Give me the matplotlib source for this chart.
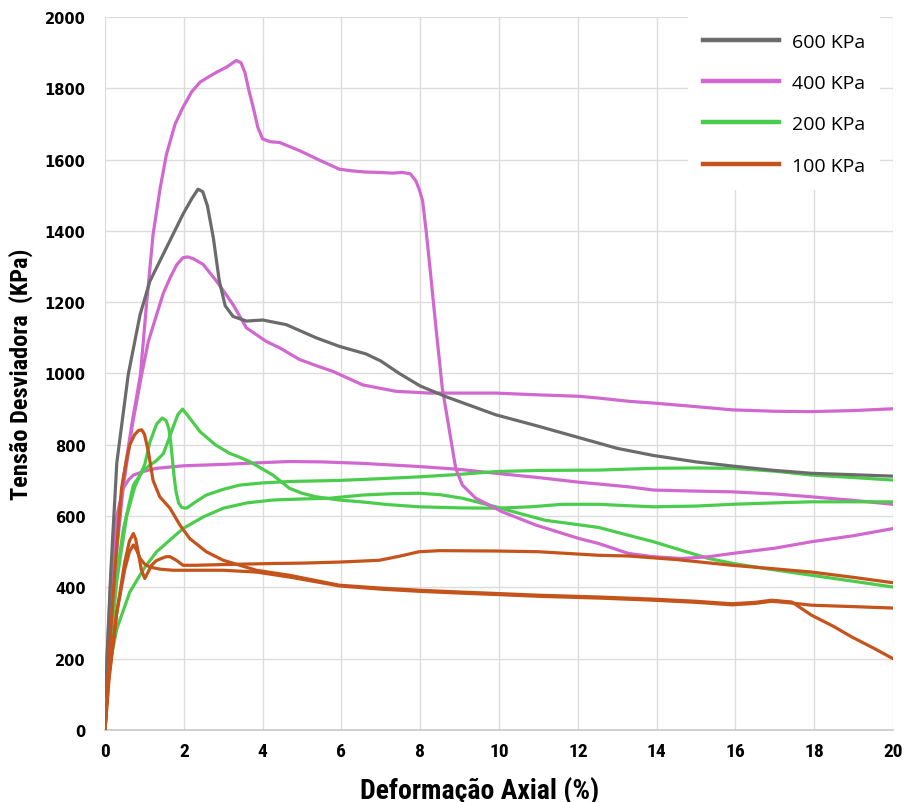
import matplotlib
matplotlib.use("Agg")
import matplotlib.pyplot as plt
from matplotlib.lines import Line2D
from matplotlib import font_manager

# Confining pressure series: axial strain (%) and deviator stress (kPa)
labels = ["600 KPa", "400 KPa", "200 KPa", "100 KPa"]

strain_600 = [0, 0.05, 0.15, 0.3, 0.59, 0.89, 1.14, 1.56, 1.98, 2.2,
              2.36, 2.48, 2.6, 2.75, 2.9, 3.05, 3.25, 3.59, 4.0, 4.6,
              5.36, 5.95, 6.62, 7.0, 7.47, 8.0, 8.65, 9.92, 11.0, 12.03,
              13.0, 13.92, 15.0, 15.95, 17.0, 17.93, 19.0, 20.0]
stress_600 = [0, 200, 450, 750, 997, 1165, 1259, 1353, 1447, 1490,
              1517, 1510, 1470, 1380, 1260, 1190, 1160, 1147, 1150, 1137,
              1100, 1076, 1055, 1035, 1000, 965, 935, 884, 852, 820,
              790, 770, 752, 740, 728, 720, 716, 712]

strain_400a = [0, 0.1, 0.25, 0.46, 0.7, 0.9, 1.05, 1.22, 1.4, 1.56,
               1.78, 1.98, 2.2, 2.41, 2.63, 2.83, 3.08, 3.33, 3.45, 3.55,
               3.65, 3.76, 3.88, 4.0, 4.2, 4.43, 4.94, 5.45, 5.95, 6.3,
               6.62, 6.96, 7.3, 7.55, 7.75, 7.89, 7.98, 8.06, 8.15, 8.23,
               8.40, 8.56, 8.73, 8.90, 9.07, 9.41, 10.08, 10.93, 12.03, 12.53,
               13.29, 13.92, 14.64, 15.32, 15.91, 17.0, 17.93, 19.0, 20.0]
stress_400a = [0, 250, 480, 700, 870, 997, 1190, 1390, 1520, 1615,
               1700, 1747, 1790, 1817, 1832, 1845, 1859, 1878, 1872, 1845,
               1795, 1747, 1690, 1658, 1650, 1648, 1625, 1598, 1573, 1568,
               1565, 1564, 1562, 1564, 1560, 1540, 1515, 1484, 1400, 1315,
               1128, 959, 847, 734, 687, 650, 612, 575, 537, 523,
               495, 486, 481, 486, 495, 510, 528, 545, 565]

strain_400b = [0, 0.1, 0.25, 0.46, 0.7, 0.93, 1.1, 1.31, 1.48, 1.65,
               1.82, 1.98, 2.1, 2.24, 2.49, 2.83, 3.05, 3.25, 3.59, 4.09,
               4.43, 4.94, 5.36, 5.78, 6.54, 7.38, 8.23, 9.0, 9.92, 11.0,
               12.03, 12.53, 13.29, 13.92, 15.0, 15.91, 17.0, 17.93, 19.0, 20.0]
stress_400b = [0, 230, 450, 680, 860, 997, 1090, 1165, 1225, 1268,
               1305, 1325, 1327, 1322, 1306, 1259, 1225, 1193, 1128, 1090,
               1072, 1039, 1022, 1006, 968, 950, 945, 945, 945, 940,
               936, 931, 922, 917, 907, 898, 894, 893, 896, 901]

strain_400c = [0, 0.05, 0.15, 0.3, 0.46, 0.6, 0.72, 1.0, 1.31, 1.98,
               3.0, 4.0, 4.68, 5.5, 6.5, 7.97, 9.0, 9.92, 11.0, 12.03,
               12.53, 13.29, 13.92, 15.0, 15.91, 17.0, 17.93, 19.0, 20.0]
stress_400c = [0, 200, 430, 600, 678, 702, 715, 726, 734, 741,
               745, 750, 753, 752, 748, 739, 731, 720, 708, 695,
               690, 682, 673, 670, 668, 662, 654, 644, 633]

strain_200a = [0, 0.1, 0.25, 0.47, 0.72, 0.95, 1.14, 1.3, 1.48, 1.6,
               1.73, 1.85, 1.97, 2.1, 2.41, 2.8, 3.16, 3.42, 3.67, 3.95,
               4.26, 4.68, 5.0, 5.36, 5.95, 6.5, 7.2, 7.97, 9.0, 9.92,
               10.8, 11.6, 12.53, 13.29, 13.92, 15.0, 15.91, 17.0, 17.93, 19.0,
               20.0]
stress_200a = [0, 200, 400, 565, 687, 725, 743, 755, 775, 810,
               850, 885, 900, 882, 837, 800, 776, 765, 753, 735,
               715, 678, 664, 654, 645, 640, 632, 626, 623, 622,
               626, 633, 633, 629, 626, 628, 633, 637, 640, 640,
               640]

strain_200b = [0, 0.1, 0.3, 0.55, 0.75, 0.89, 1.01, 1.14, 1.31, 1.45,
               1.55, 1.62, 1.67, 1.71, 1.75, 1.8, 1.87, 1.95, 2.07, 2.3,
               2.57, 3.0, 3.42, 4.0, 4.68, 5.95, 7.0, 7.97, 9.0, 9.92,
               11.0, 12.53, 13.92, 15.0, 15.91, 17.0, 17.93, 19.0, 20.0]
stress_200b = [0, 180, 420, 600, 680, 715, 745, 808, 858, 875,
               868, 845, 805, 760, 715, 670, 636, 624, 622, 640,
               659, 675, 687, 693, 697, 700, 705, 710, 717, 725,
               728, 729, 734, 735, 734, 726, 715, 708, 701]

strain_200c = [0, 0.05, 0.13, 0.3, 0.63, 1.0, 1.31, 1.98, 2.5, 3.0,
               3.6, 4.26, 5.0, 5.7, 6.54, 7.3, 7.97, 8.5, 9.07, 9.92,
               10.5, 11.18, 12.0, 12.53, 13.29, 13.92, 14.6, 15.32, 16.0, 16.75,
               17.93, 19.0, 20.0]
stress_200c = [0, 100, 190, 284, 387, 455, 500, 565, 598, 622,
               637, 645, 648, 650, 659, 663, 664, 660, 650, 626,
               608, 588, 576, 568, 546, 528, 505, 481, 466, 453,
               434, 417, 401]

strain_100a = [0, 0.1, 0.25, 0.42, 0.55, 0.63, 0.75, 0.85, 0.93, 1.0,
               1.1, 1.22, 1.39, 1.65, 1.9, 2.15, 2.57, 3.0, 3.84, 4.68,
               5.95, 7.0, 7.97, 9.0, 9.92, 11.0, 12.53, 13.92, 15.0, 15.91,
               16.5, 16.92, 17.43, 17.93, 18.5, 18.95, 19.5, 20.0]
stress_100a = [0, 200, 450, 678, 760, 800, 828, 840, 842, 830,
               781, 700, 654, 622, 575, 537, 500, 476, 448, 434,
               406, 398, 392, 387, 383, 378, 373, 367, 361, 354,
               358, 364, 359, 322, 290, 261, 230, 200]

strain_100b = [0, 0.1, 0.3, 0.5, 0.62, 0.72, 0.78, 0.84, 0.92, 1.01,
               1.08, 1.18, 1.3, 1.43, 1.55, 1.65, 1.81, 1.98, 2.3, 3.0,
               4.26, 5.0, 5.95, 6.96, 7.5, 7.97, 8.5, 9.92, 11.0, 12.53,
               13.29, 14.5, 15.91, 17.0, 17.93, 19.0, 20.0]
stress_100b = [0, 140, 330, 470, 530, 551, 535, 500, 450, 425,
               440, 462, 475, 481, 486, 486, 476, 462, 462, 464,
               467, 468, 471, 476, 488, 500, 503, 502, 500, 490,
               488, 478, 462, 452, 443, 428, 413]

strain_100c = [0, 0.1, 0.3, 0.5, 0.62, 0.72, 0.8, 0.89, 1.0, 1.14,
               1.4, 1.73, 2.3, 3.0, 3.84, 4.68, 5.95, 7.0, 7.97, 9.0,
               9.92, 11.0, 12.53, 13.92, 15.0, 15.91, 16.5, 16.92, 17.43, 17.93,
               19.0, 20.0]
stress_100c = [0, 150, 330, 450, 500, 519, 505, 481, 466, 457,
               451, 448, 448, 448, 443, 429, 404, 395, 389, 384,
               380, 375, 370, 364, 358, 351, 355, 361, 356, 350,
               346, 342]

x_ticks = [0, 2, 4, 6, 8, 10, 12, 14, 16, 18, 20]
y_ticks = [0, 200, 400, 600, 800, 1000, 1200, 1400, 1600, 1800, 2000]

colors = {"600": "#6b6b6b", "400": "#d068d0", "200": "#4ccc4c", "100": "#c5531c"}

# pick a condensed face for the axis titles if one is installed
installed = {f.name for f in font_manager.fontManager.ttflist}
narrow_face = None
for cand in ["Liberation Sans Narrow", "Roboto Condensed", "Open Sans Condensed",
             "DejaVu Sans Condensed", "Noto Sans Condensed"]:
    if cand in installed:
        narrow_face = cand
        break
if narrow_face is None:
    for name in sorted(installed):
        if "Condensed" in name or "Narrow" in name:
            narrow_face = name
            break
if narrow_face is None:
    narrow_face = "DejaVu Sans"
    narrow_stretch = "condensed"
else:
    narrow_stretch = "normal"
narrow = [narrow_face, "DejaVu Sans"]
use_narrow = narrow_face != "DejaVu Sans"
xtitle_size = 20 if use_narrow else 15.5
ytitle_size = 17.5 if use_narrow else 14
tick_size = 14 if use_narrow else 11.5
legend_font = "Open Sans" if "Open Sans" in installed else "DejaVu Sans"

fig = plt.figure(figsize=(9.06, 8.03), dpi=100)
ax = fig.add_axes([0.1159, 0.0897, 0.8698, 0.8879])

lw = 2.3
series = [
    (strain_400c, stress_400c, "400"),
    (strain_200c, stress_200c, "200"),
    (strain_200a, stress_200a, "200"),
    (strain_200b, stress_200b, "200"),
    (strain_400b, stress_400b, "400"),
    (strain_400a, stress_400a, "400"),
    (strain_600, stress_600, "600"),
    (strain_100b, stress_100b, "100"),
    (strain_100c, stress_100c, "100"),
    (strain_100a, stress_100a, "100"),
]
for xs, ys, key in series:
    ax.plot(xs, ys, color=colors[key], lw=lw, solid_joinstyle="round",
            solid_capstyle="round", zorder=3)

ax.set_xlim(0, 20)
ax.set_ylim(0, 2000)
ax.set_xticks(x_ticks)
ax.set_yticks(y_ticks)
ax.set_xticklabels([str(v) for v in x_ticks], family=narrow,
                   fontweight="bold", fontsize=tick_size)
ax.set_yticklabels([str(v) for v in y_ticks], family="DejaVu Sans",
                   fontweight="bold", fontsize=10.5)
ax.tick_params(axis="both", length=0)
ax.tick_params(axis="y", pad=14)
ax.tick_params(axis="x", pad=9)

ax.grid(True, color="#dcdcdc", lw=1.0, zorder=0)
ax.set_axisbelow(True)
for side in ["top", "right", "left"]:
    ax.spines[side].set_visible(False)
ax.spines["bottom"].set_color("#c8c8c8")
ax.spines["bottom"].set_linewidth(1.2)

ax.set_xlabel("Deformação Axial (%)", family=narrow, fontsize=xtitle_size,
              fontstretch=narrow_stretch, fontweight="semibold", labelpad=8)
ax.xaxis.set_label_coords(0.475, -0.064)
ax.xaxis.label.set_verticalalignment("top")
ax.set_ylabel("Tensão Desviadora  (KPa)", family=narrow, fontsize=ytitle_size,
              fontstretch=narrow_stretch, fontweight="semibold")
ax.yaxis.set_label_coords(-0.091, 0.5)

handles = [Line2D([0], [0], color=colors[k], lw=3.2)
           for k in ["600", "400", "200", "100"]]
leg = ax.legend(handles, labels, loc="upper right",
                bbox_to_anchor=(0.984, 1.0),
                handlelength=3.9, handletextpad=0.65, labelspacing=1.2,
                borderpad=0.8, borderaxespad=0.0, frameon=True,
                fancybox=False, prop={"family": legend_font, "size": 14})
leg.get_frame().set_facecolor("white")
leg.get_frame().set_edgecolor("none")
leg.get_frame().set_alpha(1.0)
leg.set_zorder(5)

fig.savefig("out.png", dpi=100, facecolor="white")
